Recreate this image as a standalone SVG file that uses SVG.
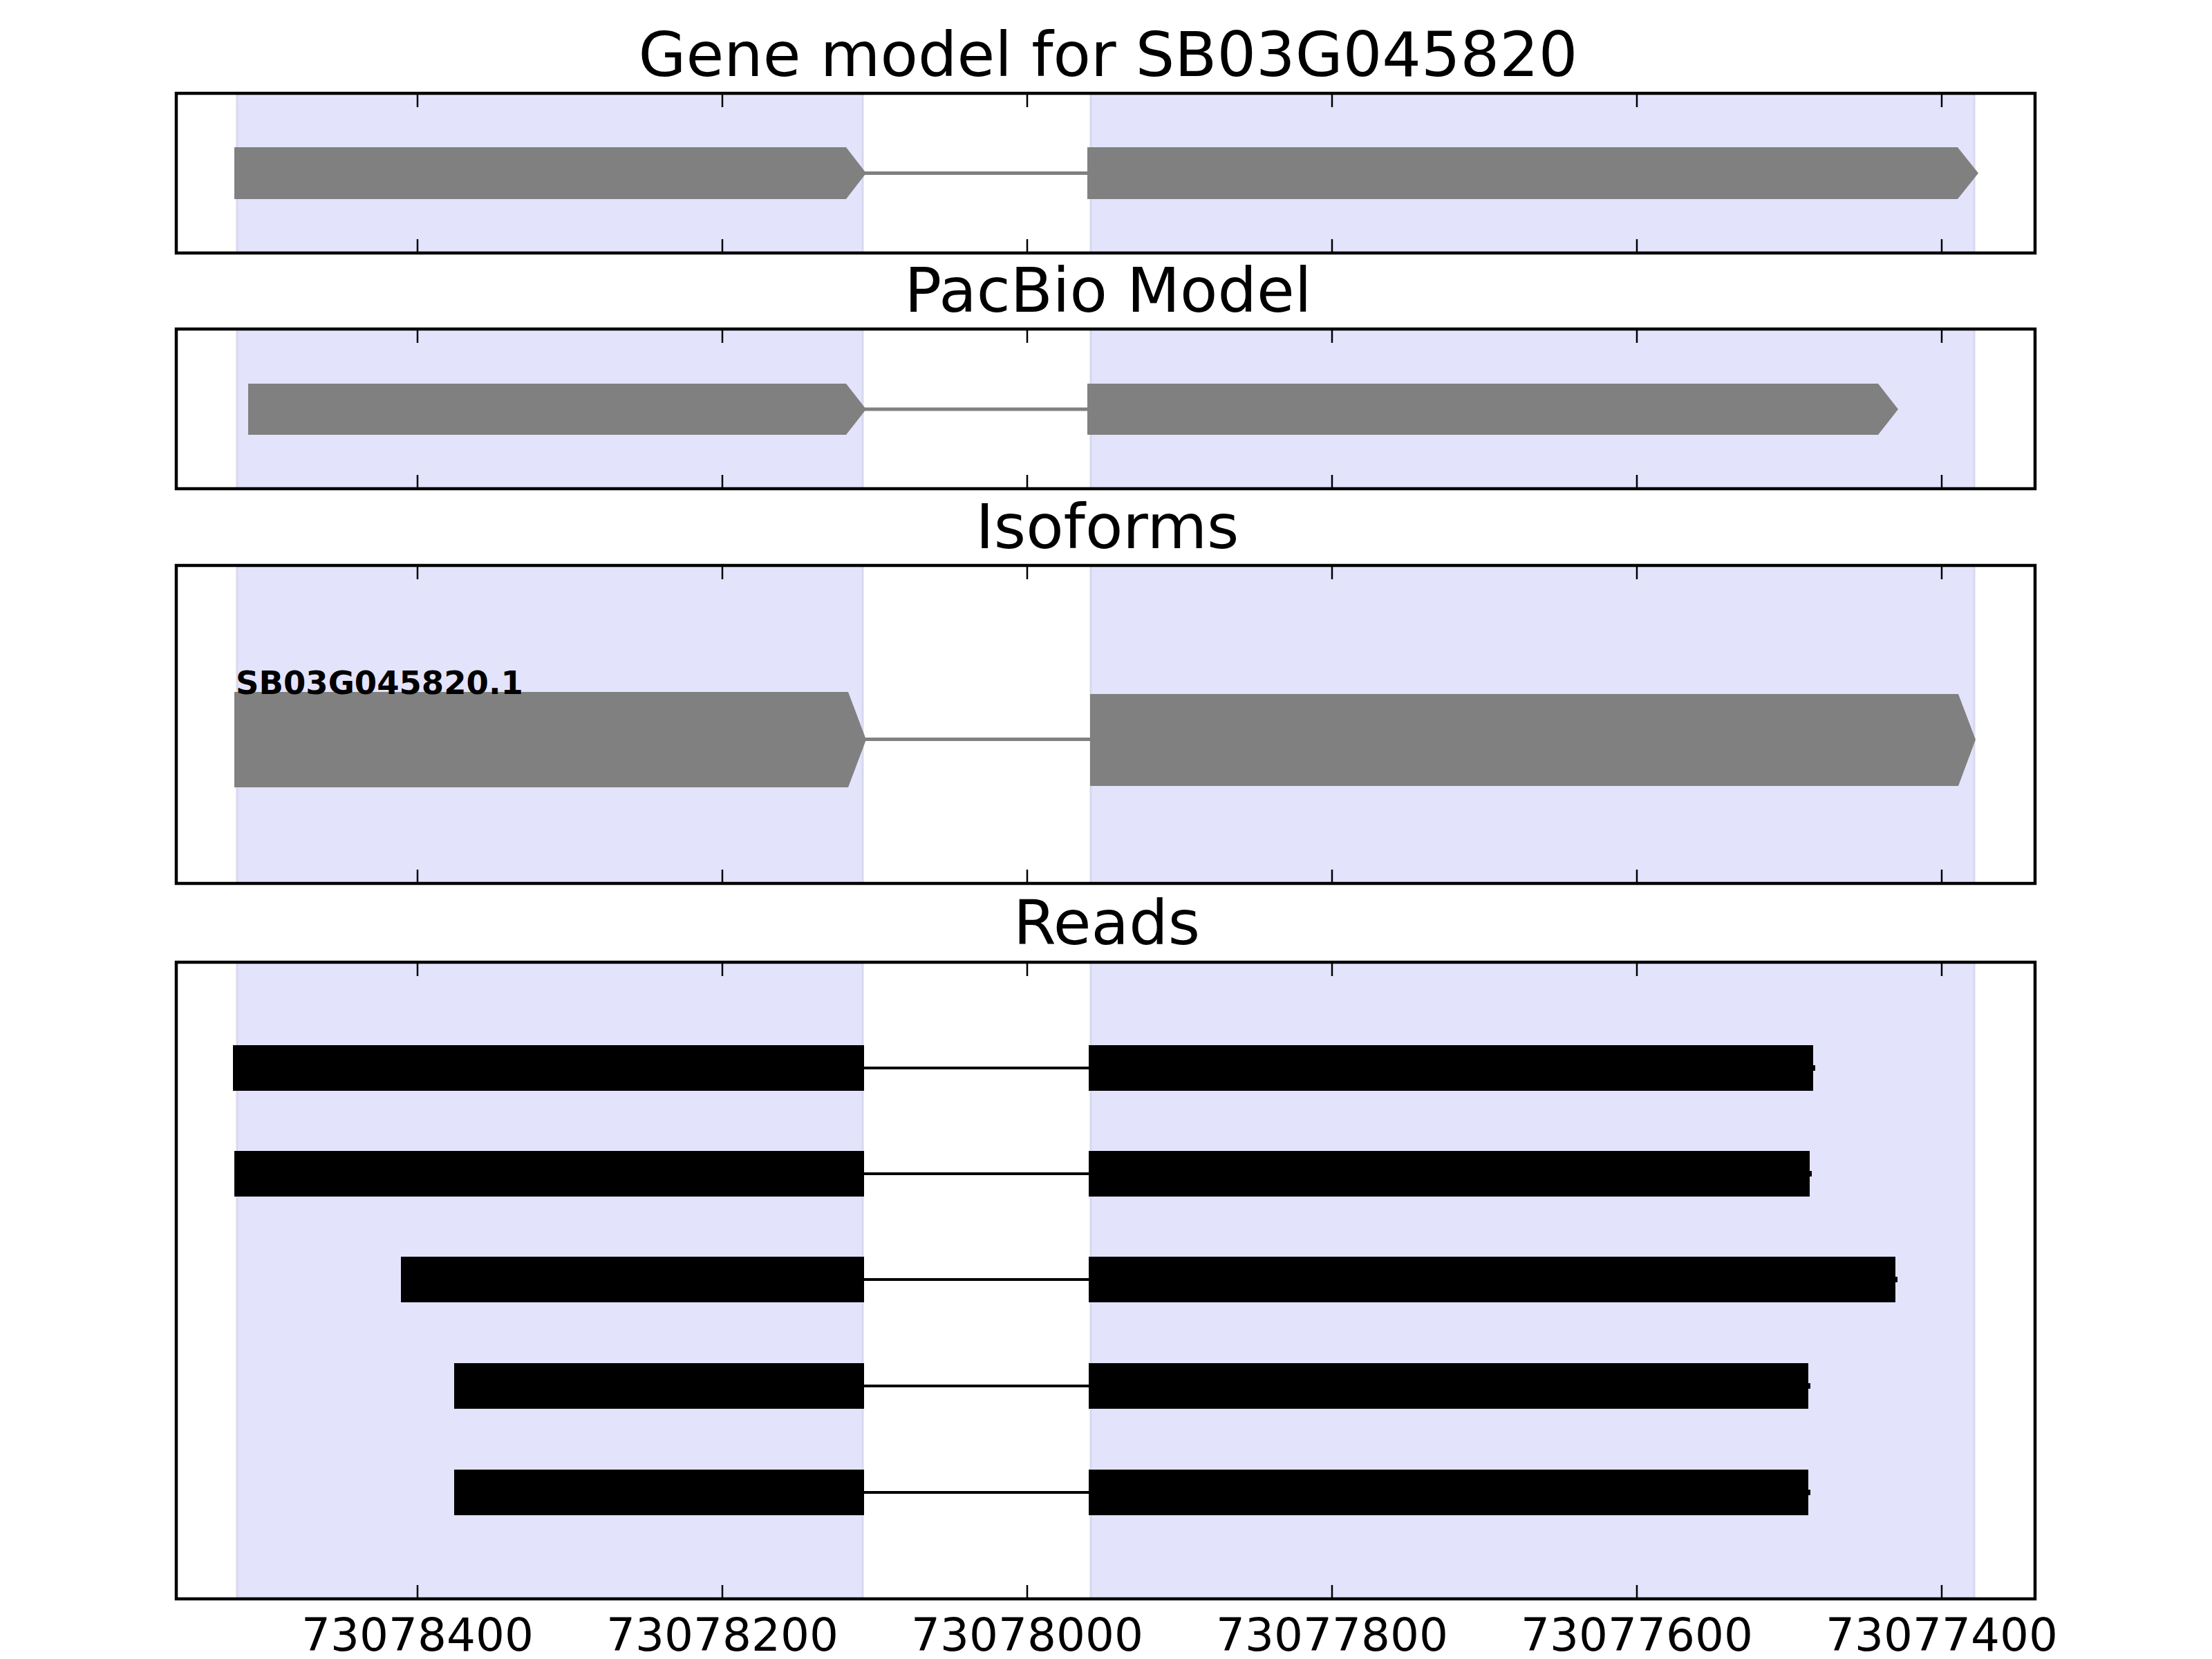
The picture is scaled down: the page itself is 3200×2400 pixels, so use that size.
<svg xmlns="http://www.w3.org/2000/svg" width="3200" height="2400" viewBox="0 0 3200 2400">
<style>
.title{font-family:"DejaVu Sans",sans-serif;font-size:89px;fill:#000;text-anchor:middle}
.tick{font-family:"DejaVu Sans",sans-serif;font-size:66px;fill:#000;text-anchor:middle}
.lab{font-family:"DejaVu Sans",sans-serif;font-size:46.5px;font-weight:bold;fill:#000}
.span{fill:#e3e3fc;stroke:#d8d8ee;stroke-width:3}
.frame{fill:none;stroke:#000;stroke-width:4.5}
.tk{stroke:#000;stroke-width:2.5}
.exon{fill:#808080}
.gintron{stroke:#808080;stroke-width:5;fill:none}
.read{fill:#000}
.rintron{stroke:#000;stroke-width:4;fill:none}
</style>
<defs>
<g id="ticks231">
<path class="tk" d="M604,0v20M1045,0v20M1486,0v20M1927,0v20M2368,0v20M2809,0v20M604,231v-20M1045,231v-20M1486,231v-20M1927,231v-20M2368,231v-20M2809,231v-20"/>
</g>
</defs>
<rect width="3200" height="2400" fill="#fff"/>

<g id="panel-gene-model">
<text class="title" x="1603" y="110">Gene model for SB03G045820</text>
<rect class="span" x="343" y="135" width="905" height="231"/>
<rect class="span" x="1578" y="135" width="1278" height="231"/>
<g id="gene-model-feature">
<line class="gintron" x1="1250" y1="250.5" x2="1575" y2="250.5"/>
<polygon class="exon" points="339,213 1224,213 1253,250.5 1224,288 339,288"/>
<polygon class="exon" points="1573,213 2832,213 2862,250.5 2832,288 1573,288"/>
</g>
<use href="#ticks231" y="135"/>
<rect class="frame" x="255" y="135" width="2689" height="231"/>
</g>

<g id="panel-pacbio">
<text class="title" x="1603" y="451">PacBio Model</text>
<rect class="span" x="343" y="476" width="905" height="231"/>
<rect class="span" x="1578" y="476" width="1278" height="231"/>
<g id="pacbio-feature">
<line class="gintron" x1="1250" y1="592" x2="1575" y2="592"/>
<polygon class="exon" points="359,555 1224,555 1253,592 1224,629 359,629"/>
<polygon class="exon" points="1573,555 2717,555 2746,592 2717,629 1573,629"/>
</g>
<use href="#ticks231" y="476"/>
<rect class="frame" x="255" y="476" width="2689" height="231"/>
</g>

<g id="panel-isoforms">
<text class="title" x="1602" y="793">Isoforms</text>
<rect class="span" x="343" y="818" width="905" height="460"/>
<rect class="span" x="1578" y="818" width="1278" height="460"/>
<g id="isoform-SB03G045820.1">
<line class="gintron" x1="1250" y1="1069.5" x2="1579" y2="1069.5"/>
<polygon class="exon" points="339,1001 1227,1001 1253,1070 1227,1139 339,1139"/>
<polygon class="exon" points="1577,1004 2833,1004 2858,1070 2833,1137 1577,1137"/>
<text class="lab" x="341" y="1004">SB03G045820.1</text>
</g>
<path class="tk" d="M604,818v20M1045,818v20M1486,818v20M1927,818v20M2368,818v20M2809,818v20M604,1278v-20M1045,1278v-20M1486,1278v-20M1927,1278v-20M2368,1278v-20M2809,1278v-20"/>
<rect class="frame" x="255" y="818" width="2689" height="460"/>
</g>

<g id="panel-reads">
<text class="title" x="1601" y="1366">Reads</text>
<rect class="span" x="343" y="1392" width="905" height="921"/>
<rect class="span" x="1578" y="1392" width="1278" height="921"/>
<g id="read-1">
<line class="rintron" x1="1250" y1="1545" x2="1575" y2="1545"/>
<rect class="read" x="337" y="1512" width="913" height="66"/>
<rect class="read" x="1575" y="1512" width="1048" height="66"/>
<rect class="read" x="2623" y="1541" width="3" height="8"/>
</g>
<g id="read-2">
<line class="rintron" x1="1250" y1="1698" x2="1575" y2="1698"/>
<rect class="read" x="339" y="1665" width="911" height="66"/>
<rect class="read" x="1575" y="1665" width="1043" height="66"/>
<rect class="read" x="2618" y="1694" width="3" height="8"/>
</g>
<g id="read-3">
<line class="rintron" x1="1250" y1="1851" x2="1575" y2="1851"/>
<rect class="read" x="580" y="1818" width="670" height="66"/>
<rect class="read" x="1575" y="1818" width="1167" height="66"/>
<rect class="read" x="2742" y="1847" width="3" height="8"/>
</g>
<g id="read-4">
<line class="rintron" x1="1250" y1="2005" x2="1575" y2="2005"/>
<rect class="read" x="657" y="1972" width="593" height="66"/>
<rect class="read" x="1575" y="1972" width="1041" height="66"/>
<rect class="read" x="2616" y="2001" width="3" height="8"/>
</g>
<g id="read-5">
<line class="rintron" x1="1250" y1="2159" x2="1575" y2="2159"/>
<rect class="read" x="657" y="2126" width="593" height="66"/>
<rect class="read" x="1575" y="2126" width="1041" height="66"/>
<rect class="read" x="2616" y="2155" width="3" height="8"/>
</g>
<path class="tk" d="M604,1392v20M1045,1392v20M1486,1392v20M1927,1392v20M2368,1392v20M2809,1392v20M604,2313v-20M1045,2313v-20M1486,2313v-20M1927,2313v-20M2368,2313v-20M2809,2313v-20"/>
<rect class="frame" x="255" y="1392" width="2689" height="921"/>
</g>

<g id="x-axis-labels">
<text class="tick" x="604" y="2388">73078400</text>
<text class="tick" x="1045" y="2388">73078200</text>
<text class="tick" x="1486" y="2388">73078000</text>
<text class="tick" x="1927" y="2388">73077800</text>
<text class="tick" x="2368" y="2388">73077600</text>
<text class="tick" x="2809" y="2388">73077400</text>
</g>
</svg>
